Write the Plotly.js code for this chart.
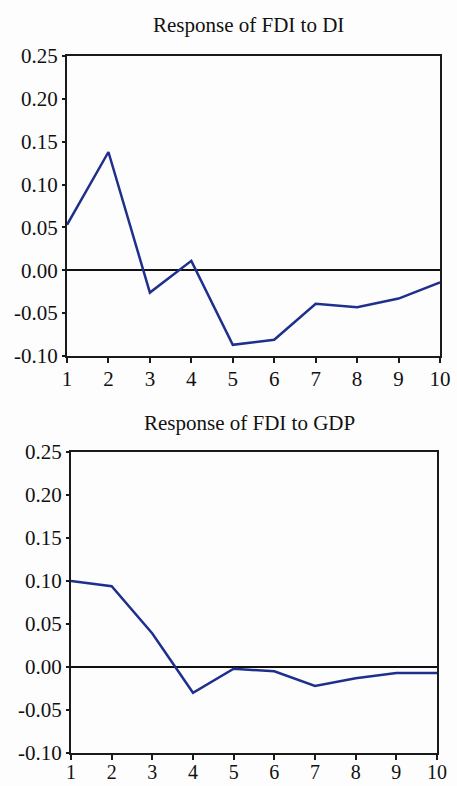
<!DOCTYPE html>
<html>
<head>
<meta charset="utf-8">
<script src="https://cdn.plot.ly/plotly-3.0.1.min.js"></script>
<style>html,body{margin:0;padding:0;background:#fdfdfd;}#chart{width:457px;height:786px;}</style>
</head>
<body>
<div id="chart"></div>
<script>
var periods = [1, 2, 3, 4, 5, 6, 7, 8, 9, 10];
var responseToDI = [0.053, 0.138, -0.026, 0.011, -0.087, -0.081, -0.039, -0.043, -0.033, -0.014];
var responseToGDP = [0.100, 0.094, 0.039, -0.030, -0.002, -0.005, -0.022, -0.013, -0.007, -0.007];
var yTicks = [-0.10, -0.05, 0.00, 0.05, 0.10, 0.15, 0.20, 0.25];
var yTickText = ["-0.10", "-0.05", "0.00", "0.05", "0.10", "0.15", "0.20", "0.25"];
var titles = ["Response of FDI to DI", "Response of FDI to GDP"];

var lineColor = "#1f2f8c";
var fontFam = "'Liberation Serif', 'Times New Roman', serif";

var traces = [
  {x: periods, y: responseToDI, type: "scatter", mode: "lines", xaxis: "x", yaxis: "y",
   line: {color: lineColor, width: 2.5}, hoverinfo: "none"},
  {x: periods, y: responseToGDP, type: "scatter", mode: "lines", xaxis: "x2", yaxis: "y2",
   line: {color: lineColor, width: 2.5}, hoverinfo: "none"}
];

function xAx(domain, anchor, standoff, fsize) {
  return {domain: domain, anchor: anchor, range: [1, 10], tickvals: periods, ticktext: periods.map(String),
    ticks: "outside", ticklen: 5, tickwidth: 2, tickcolor: "#1a1a1a",
    ticklabelstandoff: standoff,
    showline: true, mirror: true, linecolor: "#1a1a1a", linewidth: 2,
    showgrid: false, zeroline: false, tickfont: {family: fontFam, size: fsize, color: "#111"}};
}
function yAx(domain, anchor) {
  return {domain: domain, anchor: anchor, range: [-0.10, 0.25], tickvals: yTicks, ticktext: yTickText,
    ticks: "outside", ticklen: 3, tickwidth: 2, tickcolor: "#1a1a1a",
    showline: true, mirror: true, linecolor: "#1a1a1a", linewidth: 2,
    showgrid: false, zeroline: true, zerolinecolor: "#111", zerolinewidth: 2,
    tickfont: {family: fontFam, size: 21, color: "#111"}};
}

var layout = {
  width: 457, height: 786,
  margin: {l: 0, r: 0, t: 0, b: 0},
  paper_bgcolor: "#fdfdfd", plot_bgcolor: "#fdfdfd",
  showlegend: false,
  xaxis: xAx([67/457, 440/457], "y", -2, 21),
  yaxis: yAx([(786-356)/786, (786-56)/786], "x"),
  xaxis2: xAx([71/457, 437/457], "y2", -5, 20),
  yaxis2: yAx([(786-753)/786, (786-452)/786], "x2"),
  annotations: [
    {text: titles[0], xref: "paper", yref: "paper", x: 248/457, y: (786-25)/786, showarrow: false,
     xanchor: "center", yanchor: "middle", font: {family: fontFam, size: 21, color: "#111"}},
    {text: titles[1], xref: "paper", yref: "paper", x: 250/457, y: (786-423)/786, showarrow: false,
     xanchor: "center", yanchor: "middle", font: {family: fontFam, size: 21, color: "#111"}}
  ]
};

Plotly.newPlot("chart", traces, layout, {displayModeBar: false, staticPlot: true});
</script>
</body>
</html>
